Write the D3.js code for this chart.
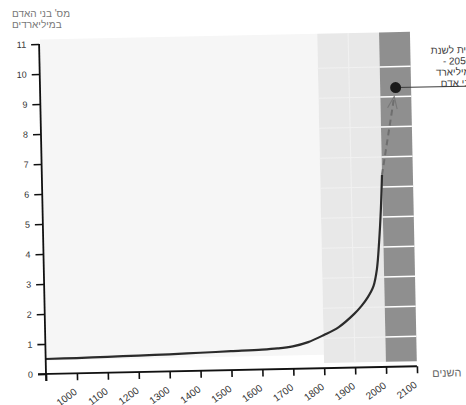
<!DOCTYPE html>
<html>
<head>
<meta charset="utf-8">
<script src="https://cdn.jsdelivr.net/npm/d3@7"></script>
<style>
  body { margin: 0; background: #fff; }
  svg { display: block; font-family: "Liberation Sans", "DejaVu Sans", sans-serif; }
</style>
</head>
<body>
<div id="chart"></div>
<script>
// Population of the world (billions) by year
const years  = [900, 1000, 1100, 1200, 1300, 1400, 1500, 1600, 1650, 1700, 1750, 1800, 1850, 1900, 1925, 1945, 1965, 1977, 1986, 1994, 2000];
const values = [0.5, 0.51, 0.53, 0.55, 0.57, 0.6, 0.63, 0.66, 0.69, 0.75, 0.88, 1.1, 1.36, 1.78, 2.05, 2.32, 2.7, 3.25, 4.15, 5.25, 6.4];

// Forecast (dashed) from the last known point to the marked point
const forecastYears  = [2000, 2050];
const forecastValues = [6.4, 9.3];

// Axis ticks
const xTicks = [900, 1000, 1100, 1200, 1300, 1400, 1500, 1600, 1700, 1800, 1900, 2000, 2100];
const yTicks = [0, 1, 2, 3, 4, 5, 6, 7, 8, 9, 10, 11];
const gridValues = [1, 2, 3, 4, 5, 6, 7, 8, 9, 10];

// Shaded periods
const bandStarts = [1800, 2000];
const bandEnds   = [2000, 2100];
const bandLow = 0.17, bandHigh = 11.15;

// Texts
const yTitle = ["מס' בני האדם", "במיליארדים"];
const xTitle = "השנים";
const note = ["תחזית לשנת", "2050 -", "9 מיליארד", "בני אדם"];

const width = 466, height = 405;
const x0 = 46, x1 = 417, yBottom = 374, yTop = 44;

const x = d3.scaleLinear().domain([900, 2100]).range([x0, x1]);
const y = d3.scaleLinear().domain([0, 11]).range([yBottom, yTop]);

const svg = d3.select("#chart").append("svg")
    .attr("width", width)
    .attr("height", height);

// the scan is slightly tilted, so the whole chart is turned a little
const g = svg.append("g")
    .attr("transform", `rotate(-1.2, ${x0}, ${yBottom})`);

// pale plot background up to the first band
g.append("rect")
    .attr("x", x(900) + 1)
    .attr("y", y(bandHigh))
    .attr("width", x(1800) - x(900) - 1)
    .attr("height", y(0.45) - y(bandHigh))
    .style("fill", "#f6f6f6");

// shaded bands
const bandColors = ["#e8e8e8", "#8f8f8f"];
bandStarts.forEach((start, i) => {
    g.append("rect")
        .attr("x", x(start))
        .attr("y", y(bandHigh))
        .attr("width", x(bandEnds[i]) - x(start))
        .attr("height", y(bandLow) - y(bandHigh))
        .style("fill", bandColors[i]);
});

// faint lines inside the light band
gridValues.forEach(v => {
    g.append("line")
        .attr("x1", x(1800)).attr("x2", x(2000))
        .attr("y1", y(v)).attr("y2", y(v))
        .style("stroke", "#f1f1f1")
        .style("stroke-width", 1);
});
g.append("line")
    .attr("x1", x(1900)).attr("x2", x(1900))
    .attr("y1", y(bandLow)).attr("y2", y(bandHigh))
    .style("stroke", "#f1f1f1")
    .style("stroke-width", 1);

// white lines across the dark band
gridValues.forEach(v => {
    g.append("line")
        .attr("x1", x(2000)).attr("x2", x(2100))
        .attr("y1", y(v)).attr("y2", y(v))
        .style("stroke", "#ffffff")
        .style("stroke-width", 1.5);
});

// population curve
const pts = years.map((yr, i) => [yr, values[i]]);
const line = d3.line()
    .x(d => x(d[0]))
    .y(d => y(d[1]))
    .curve(d3.curveCatmullRom.alpha(0.5));

g.append("path")
    .datum(pts)
    .attr("d", line)
    .style("fill", "none")
    .style("stroke", "#2b2b2b")
    .style("stroke-width", 2.2);

// forecast dashed line with an open arrow head
const fx0 = x(forecastYears[0]), fy0 = y(forecastValues[0]);
const fx1 = x(forecastYears[1]), fy1 = y(forecastValues[1]);
const len = Math.hypot(fx1 - fx0, fy1 - fy0);
const ux = (fx1 - fx0) / len, uy = (fy1 - fy0) / len;
const tipX = fx1 - ux * 9, tipY = fy1 - uy * 9;

g.append("line")
    .attr("x1", fx0).attr("y1", fy0)
    .attr("x2", tipX).attr("y2", tipY)
    .style("stroke", "#6e6e6e")
    .style("stroke-width", 2)
    .style("stroke-dasharray", "6,4");

const headLen = 13, spread = 0.38;
const ang = Math.atan2(uy, ux);
g.append("path")
    .attr("d", `M${tipX - headLen * Math.cos(ang - spread)},${tipY - headLen * Math.sin(ang - spread)}`
        + `L${tipX},${tipY}`
        + `L${tipX - headLen * Math.cos(ang + spread)},${tipY - headLen * Math.sin(ang + spread)}`)
    .style("fill", "none")
    .style("stroke", "#777")
    .style("stroke-width", 1.1);

// leader line from the point to the note
g.append("line")
    .attr("x1", fx1).attr("y1", fy1)
    .attr("x2", width + 20).attr("y2", fy1)
    .style("stroke", "#3a3a3a")
    .style("stroke-width", 1);

g.append("circle")
    .attr("cx", fx1)
    .attr("cy", fy1)
    .attr("r", 5.5)
    .style("fill", "#1a1a1a");

// note text, centred, running off the right edge as in the scan
note.forEach((t, i) => {
    g.append("text")
        .attr("x", 463.5)
        .attr("y", fy1 - 33 + i * 11)
        .attr("direction", "rtl")
        .attr("text-anchor", "middle")
        .style("font-size", "10px")
        .style("fill", "#3a3a3a")
        .text(t);
});

// x axis
const xAxis = d3.axisBottom(x)
    .tickValues(xTicks)
    .tickSize(7)
    .tickFormat(d => d === 900 ? "" : d);

const gx = g.append("g")
    .attr("transform", `translate(0, ${yBottom})`)
    .call(xAxis);
gx.select(".domain").remove();
gx.selectAll(".tick line").style("stroke", "#111").style("stroke-width", 1.6);
gx.selectAll(".tick text")
    .attr("x", 0).attr("y", 0).attr("dy", 0)
    .attr("text-anchor", "end")
    .attr("transform", "translate(0, 20) rotate(-35)")
    .style("font-size", "10px")
    .style("fill", "#333");

g.append("line")
    .attr("x1", x0 - 8).attr("x2", x1)
    .attr("y1", yBottom).attr("y2", yBottom)
    .style("stroke", "#111")
    .style("stroke-width", 1.8);

// y axis
const yAxis = d3.axisLeft(y)
    .tickValues(yTicks)
    .tickSize(8)
    .tickPadding(5);

const gy = g.append("g")
    .attr("transform", `translate(${x0}, 0)`)
    .call(yAxis);
gy.select(".domain").remove();
gy.selectAll(".tick line").style("stroke", "#111").style("stroke-width", 1.6);
gy.selectAll(".tick text")
    .style("font-size", "9px")
    .style("fill", "#333");

g.append("line")
    .attr("x1", x0).attr("x2", x0)
    .attr("y1", y(11)).attr("y2", yBottom + 7)
    .style("stroke", "#111")
    .style("stroke-width", 1.8);

// titles
yTitle.forEach((t, i) => {
    svg.append("text")
        .attr("x", 12)
        .attr("y", 17 + i * 11)
        .style("font-size", "10px")
        .style("fill", "#777")
        .text(t);
});

g.append("text")
    .attr("x", 432)
    .attr("y", yBottom + 11)
    .style("font-size", "11px")
    .style("fill", "#666")
    .text(xTitle);
</script>
</body>
</html>
